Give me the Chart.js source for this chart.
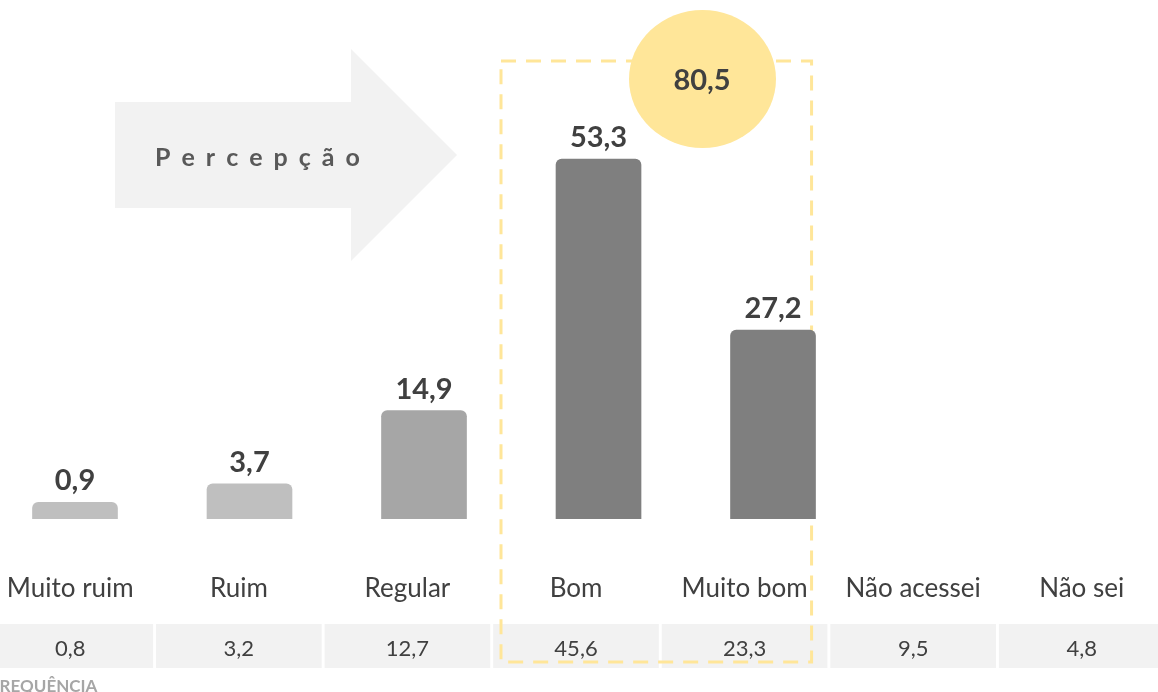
<!DOCTYPE html>
<html>
<head>
<meta charset="utf-8">
<script src="https://cdn.jsdelivr.net/npm/chart.js@4"></script>
<style>
    html, body { margin: 0; padding: 0; background: #fff; overflow: hidden; }
    #wrap { position: absolute; left: -14px; top: 0; width: 1180px; height: 692px; }
</style>
</head>
<body>
<div id="wrap"><canvas id="percChart"></canvas></div>
<script>
// DATA
const categories = ['Muito ruim', 'Ruim', 'Regular', 'Bom', 'Muito bom', 'Não acessei', 'Não sei'];
const perception = [0.9, 3.7, 14.9, 53.3, 27.2];
const frequency = [0.8, 3.2, 12.7, 45.6, 23.3, 9.5, 4.8];
const positiveIdx = [3, 4];
const barColors = ['#bfbfbf', '#bfbfbf', '#a6a6a6', '#7f7f7f', '#7f7f7f'];

const FONT = 'Lato, "Open Sans", sans-serif';
const SHIFT = 14; // canvas is shifted left by this amount
const fmt = v => v.toFixed(1).replace('.', ',');

const totalPositive = positiveIdx.reduce((s, i) => s + perception[i], 0);

// everything drawn behind the bars
const backPlugin = {
    id: 'back',
    beforeDatasetsDraw(chart) {
        const ctx = chart.ctx;
        const xs = chart.scales.x;
        ctx.save();

        // arrow
        ctx.fillStyle = '#f2f2f2';
        ctx.beginPath();
        ctx.moveTo(115 + SHIFT, 102);
        ctx.lineTo(351 + SHIFT, 102);
        ctx.lineTo(351 + SHIFT, 49);
        ctx.lineTo(457 + SHIFT, 155);
        ctx.lineTo(351 + SHIFT, 261);
        ctx.lineTo(351 + SHIFT, 208);
        ctx.lineTo(115 + SHIFT, 208);
        ctx.closePath();
        ctx.fill();

        // spaced title
        ctx.fillStyle = '#595959';
        ctx.font = 'bold 25px ' + FONT;
        ctx.textBaseline = 'alphabetic';
        ctx.textAlign = 'left';
        let x = 155 + SHIFT;
        for (const ch of 'Percepção') {
            ctx.fillText(ch, x, 166);
            x += ctx.measureText(ch).width + 11;
        }

        const colW = xs.getPixelForValue(1) - xs.getPixelForValue(0);
        ctx.textAlign = 'center';

        // category labels
        ctx.fillStyle = '#404040';
        ctx.font = '26px ' + FONT;
        categories.forEach((c, i) => {
            ctx.fillText(c, xs.getPixelForValue(i), 597);
        });

        // frequency row
        categories.forEach((c, i) => {
            const cx = xs.getPixelForValue(i);
            ctx.fillStyle = '#f2f2f2';
            ctx.fillRect(cx - colW / 2 + 1.5, 624, colW - 3, 44);
            ctx.fillStyle = '#404040';
            ctx.font = '22px ' + FONT;
            ctx.fillText(fmt(frequency[i]), cx, 656);
        });

        // label under the table
        ctx.fillStyle = '#a6a6a6';
        ctx.font = 'bold 17px ' + FONT;
        ctx.textAlign = 'left';
        ctx.fillText('FREQUÊNCIA', 4, 692);

        // dashed highlight box
        const b0 = xs.getPixelForValue(positiveIdx[0]);
        const b1 = xs.getPixelForValue(positiveIdx[1]);
        ctx.strokeStyle = '#ffe699';
        ctx.lineWidth = 3;
        ctx.setLineDash([15, 10]);
        ctx.strokeRect(b0 - 75, 61, (b1 + 67) - (b0 - 75), 601);
        ctx.setLineDash([]);

        // total bubble
        ctx.fillStyle = '#ffe699';
        ctx.beginPath();
        ctx.ellipse(702.5 + SHIFT, 79, 73.5, 69, 0, 0, Math.PI * 2);
        ctx.fill();
        ctx.fillStyle = '#404040';
        ctx.font = 'bold 29px ' + FONT;
        ctx.textAlign = 'center';
        ctx.fillText(fmt(totalPositive), 702 + SHIFT, 90);

        ctx.restore();
    }
};

// bar values on top
const valuePlugin = {
    id: 'values',
    afterDatasetsDraw(chart) {
        const ctx = chart.ctx;
        const meta = chart.getDatasetMeta(0);
        ctx.save();
        ctx.fillStyle = '#404040';
        ctx.font = 'bold 29px ' + FONT;
        ctx.textAlign = 'center';
        ctx.textBaseline = 'alphabetic';
        meta.data.forEach((bar, i) => {
            ctx.fillText(fmt(perception[i]), bar.x, bar.y - 12);
        });
        ctx.restore();
    }
};

const yMin = -1.66;

new Chart(document.getElementById('percChart'), {
    type: 'bar',
    data: {
        labels: categories,
        datasets: [{
            data: perception.map((v, i) => ({ x: i, y: v })),
            xAxisID: 'xb',
            base: yMin,
            backgroundColor: barColors,
            borderRadius: 6,
            barThickness: 85
        }]
    },
    options: {
        responsive: true,
        maintainAspectRatio: false,
        animation: false,
        layout: { padding: { top: 0, bottom: 173, left: 0, right: 0 } },
        plugins: {
            legend: { display: false },
            tooltip: { enabled: false }
        },
        scales: {
            x: { type: 'category', labels: categories, offset: true, display: false },
            xb: { type: 'linear', axis: 'x', min: -0.51, max: 6.252, offset: false, display: false },
            y: { min: yMin, max: 77.58, display: false }
        }
    },
    plugins: [backPlugin, valuePlugin]
});
</script>
</body>
</html>
